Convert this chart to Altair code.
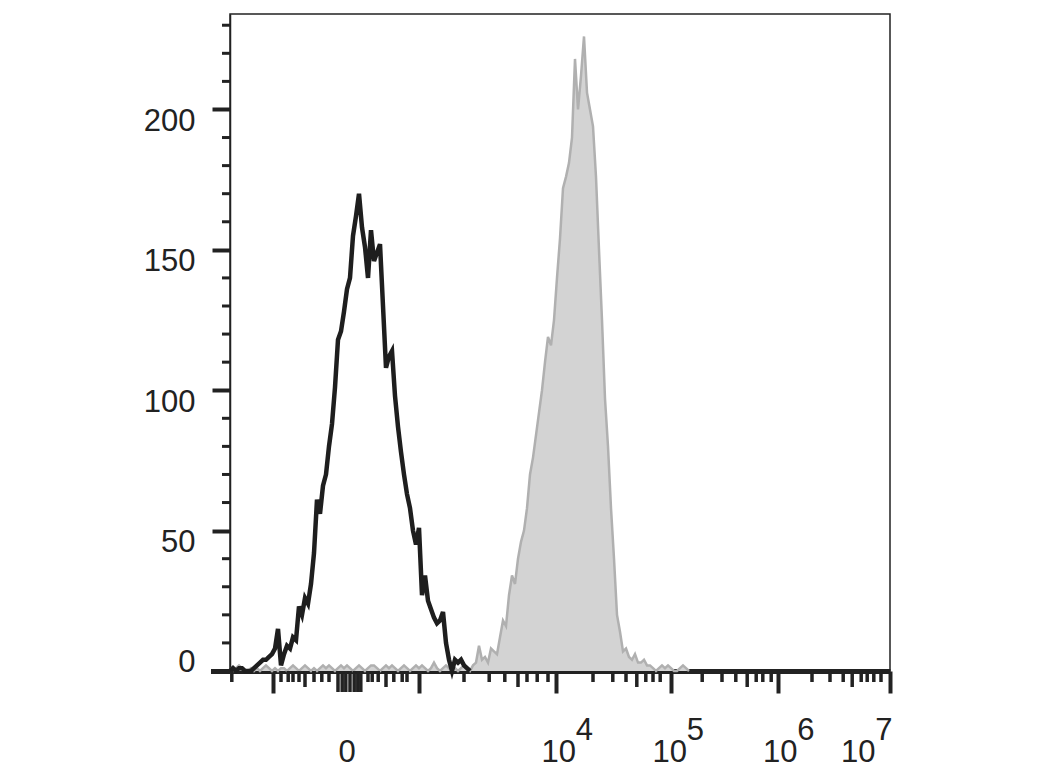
import altair as alt
import pandas as pd

# ---- data (x in display channels, 5 channels per histogram bin) ----
BIN = 5
black_counts = [0, 1, 0, 1, 1, 0, 0, 0, 1, 2,
                3, 4, 4, 5, 6, 8, 15, 2, 6, 9,
                8, 12, 11, 23, 20, 26, 24, 31, 42, 61,
                56, 66, 70, 80, 88, 101, 118, 121, 128, 136,
                140, 155, 162, 170, 158, 151, 140, 157, 146, 149,
                152, 130, 108, 112, 114, 98, 87, 78, 70, 63,
                58, 50, 45, 51, 27, 34, 25, 22, 19, 17,
                18, 21, 10, 4, 0, 4, 3, 4, 2, 1,
                0]

gray_counts = [1, 0, 1, 2, 1, 0, 0, 1, 0, 1,
               0, 1, 2, 1, 0, 1, 0, 1, 1, 0,
               1, 2, 1, 0, 1, 2, 1, 0, 1, 0,
               1, 2, 1, 2, 1, 0, 1, 2, 1, 2,
               1, 0, 1, 2, 1, 0, 1, 2, 2, 1,
               0, 1, 2, 1, 2, 1, 0, 1, 2, 1,
               0, 1, 2, 1, 2, 1, 0, 1, 3, 1,
               0, 1, 2, 1, 2, 1, 0, 1, 2, 1,
               0,
               2, 3, 9, 4, 5, 3, 8, 7, 6, 12,
               18, 16, 27, 34, 31, 40, 46, 50, 58, 70,
               76, 84, 92, 100, 110, 119, 116, 125, 140, 154,
               172, 176, 181, 190, 218, 200, 212, 226, 206, 200,
               194, 176, 150, 125, 97, 80, 58, 40, 20, 14,
               7, 8, 5, 4, 6, 3, 3, 4, 2, 2,
               1, 0, 1, 2, 1, 2, 1, 0, 0, 1,
               2, 1, 0]

# axis ticks (display channels)
x_major = [72, 315, 543, 735, 913, 1100]
x_minor_small = [3, 85, 97, 105, 115, 140, 153, 165, 230, 237, 247, 273, 287, 295,
                 390, 432, 458, 495, 512, 530, 605, 638, 660, 693, 705, 717,
                 787, 820, 843, 877, 888, 902, 970, 1000, 1022, 1052, 1062, 1073, 1085]
x_minor_mid = [125, 260, 480, 678, 862, 1037]
x_minor_zero = [180, 187, 193, 200, 207, 213, 218]
label_x = [195, 548, 733, 917, 1047]
label_base = ["0", "10", "10", "10", "10"]
label_exp = ["", "4", "5", "6", "7"]

y_major = [0, 50, 100, 150, 200]
y_minor = [10, 20, 30, 40, 60, 70, 80, 90, 110, 120, 130, 140,
           160, 170, 180, 190, 210, 220, 230]

X_MAX = 1100
Y_MAX = 234
FONT = "Liberation Sans"
INK = "#222222"
FS = 31

black_df = pd.DataFrame({"x": [i * BIN for i in range(len(black_counts))], "y": black_counts})
gray_df = pd.DataFrame({"x": [i * BIN for i in range(len(gray_counts))], "y": gray_counts})
small_df = pd.DataFrame({"x": x_minor_small})
mid_df = pd.DataFrame({"x": x_minor_mid})
zero_df = pd.DataFrame({"x": x_minor_zero})
ymin_df = pd.DataFrame({"y": y_minor})
lab_df = pd.DataFrame({"x": label_x, "base": label_base, "exp": label_exp})

xs = alt.Scale(domain=[0, X_MAX], nice=False, zero=False)
ys = alt.Scale(domain=[0, Y_MAX], nice=False)

x_axis = alt.Axis(values=x_major, labels=False, tickSize=22, tickWidth=4, tickColor=INK,
                  domainWidth=5, domainColor=INK, title=None, grid=False)
y_axis = alt.Axis(values=y_major, tickSize=18, tickWidth=4, tickColor=INK,
                  domainWidth=1.5, domainColor=INK, title=None, grid=False,
                  labelFont=FONT, labelFontSize=FS, labelColor=INK, labelPadding=17,
                  labelBaseline={"condition": {"test": "datum.value === 0", "value": "alphabetic"},
                                 "value": "top"},
                  labelOffset={"condition": {"test": "datum.value === 0", "value": 0},
                               "value": -3})


def X():
    return alt.X("x:Q", scale=xs, axis=x_axis)


def Y():
    return alt.Y("y:Q", scale=ys, axis=y_axis)


gray_area = alt.Chart(gray_df).mark_area(color="#d3d3d3", opacity=1, interpolate="linear").encode(
    x=X(), y=Y())
gray_line = alt.Chart(gray_df).mark_line(color="#b0b0b0", strokeWidth=2.5).encode(
    x=X(), y=Y())
black_line = alt.Chart(black_df).mark_line(color="#1e1e1e", strokeWidth=4.5).encode(
    x=X(), y=Y())

H = 657
small_ticks = alt.Chart(small_df).mark_rule(color=INK, strokeWidth=3.5).encode(
    x=X(), y=alt.value(H), y2=alt.value(H + 11))
mid_ticks = alt.Chart(mid_df).mark_rule(color=INK, strokeWidth=3.5).encode(
    x=X(), y=alt.value(H), y2=alt.value(H + 16))
zero_ticks = alt.Chart(zero_df).mark_rule(color=INK, strokeWidth=3.5).encode(
    x=X(), y=alt.value(H), y2=alt.value(H + 21))
axis_ext = alt.Chart(small_df).mark_rule(color=INK, strokeWidth=5).encode(
    x=alt.value(-19), x2=alt.value(0), y=alt.value(H + 0.5))
y_minor_ticks = alt.Chart(ymin_df).mark_rule(color=INK, strokeWidth=3).encode(
    y=Y(), x=alt.value(-8), x2=alt.value(0))

base_txt = alt.Chart(lab_df).mark_text(font=FONT, fontSize=FS, color=INK, align="center",
                                       baseline="alphabetic").encode(
    x=X(), y=alt.value(748), text="base:N")
exp_txt = alt.Chart(lab_df).mark_text(font=FONT, fontSize=FS, color=INK, align="left",
                                      baseline="alphabetic", dx=17).encode(
    x=X(), y=alt.value(726), text="exp:N")

chart = alt.layer(
    gray_area, gray_line, black_line, small_ticks, mid_ticks, zero_ticks, axis_ext,
    y_minor_ticks, base_txt, exp_txt
).properties(
    width=660, height=H, background="white",
    padding={"left": 135, "top": 6, "right": 5, "bottom": 5},
).configure_view(
    stroke=INK, strokeWidth=1.5
)

chart.save("out.html", embed_options={"renderer": "svg", "actions": False})
